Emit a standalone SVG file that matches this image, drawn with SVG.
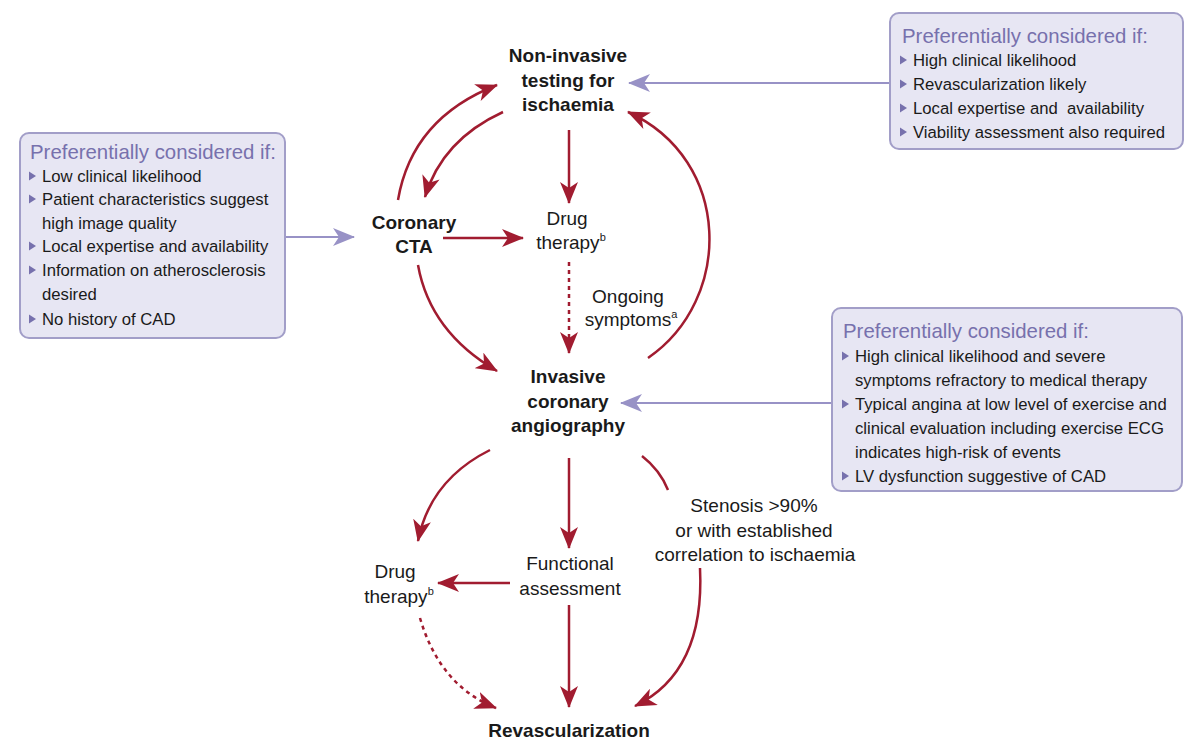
<svg xmlns="http://www.w3.org/2000/svg" width="1200" height="756" viewBox="0 0 1200 756">
<style>
text{font-family:"Liberation Sans",Arial,sans-serif;fill:#1a1a1a}
.node{font-size:19px;font-weight:bold;text-anchor:middle}
.lbl{font-size:19px;text-anchor:middle}
.sup{font-size:11px}
.box{fill:#e7e6f3;stroke:#a29ec8;stroke-width:2}
.ttl{font-size:20.4px;fill:#7771ad}
.itm{font-size:16.7px;white-space:pre}
.red{fill:none;stroke:#a11c30;stroke-width:2.5}
.dash{stroke-dasharray:4 4}
.pur{fill:none;stroke:#9892c6;stroke-width:2.2}
.bul{fill:#7771ad}
</style>
<defs>
<marker id="ar" markerUnits="userSpaceOnUse" markerWidth="22" markerHeight="18" viewBox="0 0 22 18" refX="21" refY="9" orient="auto">
<path d="M0,0 L22,9 L0,18 L6,9 Z" fill="#a11c30"/>
</marker>
<marker id="ap" markerUnits="userSpaceOnUse" markerWidth="22" markerHeight="18" viewBox="0 0 22 18" refX="21" refY="9" orient="auto">
<path d="M0,0 L22,9 L0,18 L6,9 Z" fill="#9892c6"/>
</marker>
<path id="tri" d="M0,-4.5 L7,0 L0,4.5 Z"/>
</defs>

<g id="connectors">
<path class="red" d="M398,200 Q412,118 497,85" marker-end="url(#ar)"/>
<path class="red" d="M503,112 Q442,140 425,197" marker-end="url(#ar)"/>
<path class="red" d="M569,130 L569,203" marker-end="url(#ar)"/>
<path class="red" d="M443,238 L523,238" marker-end="url(#ar)"/>
<path class="red dash" d="M569,262 L569,353" marker-end="url(#ar)"/>
<path class="red" d="M418,265 Q430,332 497,371" marker-end="url(#ar)"/>
<path class="red" d="M648,358 C733,300 733,160 628,112" marker-end="url(#ar)"/>
<path class="red" d="M490,450 Q430,480 418,541" marker-end="url(#ar)"/>
<path class="red" d="M569,458 L569,548" marker-end="url(#ar)"/>
<path class="red" d="M642,456 Q660,470 668,490"/>
<path class="red" d="M700,568 Q705,672 635,706" marker-end="url(#ar)"/>
<path class="red" d="M510,583 L438,583" marker-end="url(#ar)"/>
<path class="red" d="M569,605 L569,707" marker-end="url(#ar)"/>
<path class="red dash" d="M420,618 Q440,686 496,708" marker-end="url(#ar)"/>
<path class="pur" d="M890,83 L629,83" marker-end="url(#ap)"/>
<path class="pur" d="M285,237 L354,237" marker-end="url(#ap)"/>
<path class="pur" d="M832,403 L621,403" marker-end="url(#ap)"/>
</g>

<g id="noninvasive">
<text class="node" x="568" y="62">Non-invasive</text>
<text class="node" x="568" y="87">testing for</text>
<text class="node" x="568" y="111">ischaemia</text>
</g>
<g id="cta">
<text class="node" x="414" y="229">Coronary</text>
<text class="node" x="414" y="253">CTA</text>
</g>
<g id="drug1">
<text class="lbl" x="567" y="225">Drug</text>
<text class="lbl" x="571" y="249">therapy<tspan class="sup" dy="-8">b</tspan></text>
</g>
<g id="ongoing">
<text class="lbl" x="628" y="303">Ongoing</text>
<text class="lbl" x="631" y="326">symptoms<tspan class="sup" dy="-8">a</tspan></text>
</g>
<g id="invasive">
<text class="node" x="568" y="383">Invasive</text>
<text class="node" x="568" y="408">coronary</text>
<text class="node" x="568" y="432">angiography</text>
</g>
<g id="drug2">
<text class="lbl" x="395" y="578">Drug</text>
<text class="lbl" x="399" y="603">therapy<tspan class="sup" dy="-8">b</tspan></text>
</g>
<g id="functional">
<text class="lbl" x="570" y="570">Functional</text>
<text class="lbl" x="570" y="595">assessment</text>
</g>
<g id="stenosis">
<text class="lbl" x="754" y="512">Stenosis &gt;90%</text>
<text class="lbl" x="754" y="537">or with established</text>
<text class="lbl" x="755" y="561">correlation to ischaemia</text>
</g>
<g id="revasc">
<text class="node" x="569" y="737">Revascularization</text>
</g>

<g id="box-top">
<rect class="box" x="890" y="13" width="293" height="136" rx="9"/>
<text class="ttl" x="902" y="43">Preferentially considered if:</text>
<use href="#tri" class="bul" x="900" y="60"/>
<text class="itm" x="913" y="66">High clinical likelihood</text>
<use href="#tri" class="bul" x="900" y="84"/>
<text class="itm" x="913" y="90">Revascularization likely</text>
<use href="#tri" class="bul" x="900" y="108"/>
<text class="itm" x="913" y="114" xml:space="preserve">Local expertise and  availability</text>
<use href="#tri" class="bul" x="900" y="132"/>
<text class="itm" x="913" y="138">Viability assessment also required</text>
</g>

<g id="box-left">
<rect class="box" x="20" y="133" width="265" height="205" rx="9"/>
<text class="ttl" x="30" y="159">Preferentially considered if:</text>
<use href="#tri" class="bul" x="29" y="176"/>
<text class="itm" x="42" y="182">Low clinical likelihood</text>
<use href="#tri" class="bul" x="29" y="199"/>
<text class="itm" x="42" y="205">Patient characteristics suggest</text>
<text class="itm" x="42" y="229">high image quality</text>
<use href="#tri" class="bul" x="29" y="246"/>
<text class="itm" x="42" y="252">Local expertise and availability</text>
<use href="#tri" class="bul" x="29" y="270"/>
<text class="itm" x="42" y="276">Information on atherosclerosis</text>
<text class="itm" x="42" y="300">desired</text>
<use href="#tri" class="bul" x="29" y="319"/>
<text class="itm" x="42" y="325">No history of CAD</text>
</g>

<g id="box-right">
<rect class="box" x="832" y="308" width="350" height="183" rx="9"/>
<text class="ttl" x="843" y="338">Preferentially considered if:</text>
<use href="#tri" class="bul" x="842" y="356"/>
<text class="itm" x="855" y="362">High clinical likelihood and severe</text>
<text class="itm" x="855" y="386">symptoms refractory to medical therapy</text>
<use href="#tri" class="bul" x="842" y="404"/>
<text class="itm" x="855" y="410">Typical angina at low level of exercise and</text>
<text class="itm" x="855" y="434">clinical evaluation including exercise ECG</text>
<text class="itm" x="855" y="458">indicates high-risk of events</text>
<use href="#tri" class="bul" x="842" y="476"/>
<text class="itm" x="855" y="482">LV dysfunction suggestive of CAD</text>
</g>
</svg>
